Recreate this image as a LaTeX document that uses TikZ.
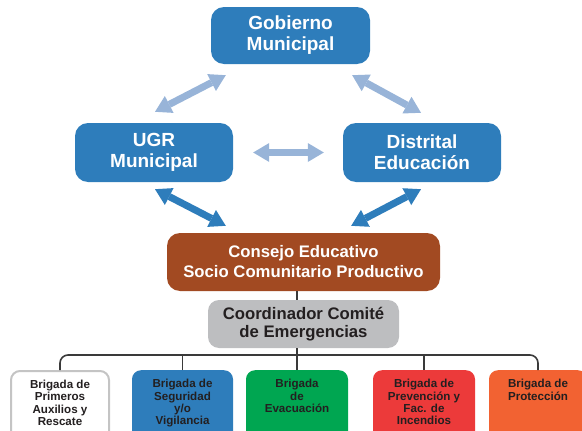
\documentclass[tikz,border=0pt]{standalone}
\usepackage{fontspec}
\setmainfont{Liberation Sans}
\usetikzlibrary{arrows.meta,calc}
\definecolor{boxblue}{HTML}{2E7DBB}
\definecolor{lightarr}{HTML}{98B4D8}
\definecolor{brownc}{HTML}{A24A22}
\definecolor{greyc}{HTML}{BDBEC0}
\definecolor{greyborder}{HTML}{C4C4C4}
\definecolor{greenc}{HTML}{00A651}
\definecolor{redc}{HTML}{EC3A3A}
\definecolor{orangec}{HTML}{F26232}
\definecolor{darktext}{HTML}{231F20}
\definecolor{connc}{HTML}{3A3A3A}
\begin{document}
\begin{tikzpicture}[x=1pt,y=-1pt,
  topbox/.style={rounded corners=13pt, fill=boxblue, text=white,
    font=\bfseries\fontsize{19}{21}\selectfont, align=center,
    minimum width=159pt, minimum height=57pt, inner sep=0pt},
  brig/.style={anchor=north, inner xsep=0pt, inner ysep=9pt, rounded corners=9pt,
    text=darktext, font=\bfseries\fontsize{11.6}{12.4}\selectfont},
  conn/.style={line width=1.6pt, draw=connc},
  fatarrow/.style={line width=7pt,
    {Triangle[width=19pt,length=16pt,line width=0pt]}-{Triangle[width=19pt,length=16pt,line width=0pt]}}
]
\path[use as bounding box, clip] (0,0) rectangle (582,431);

% main boxes
\node[topbox] (gob) at (290.5,35.5) {Gobierno\\Municipal};
\node[topbox, minimum width=158pt, minimum height=59pt] (ugr) at (154,152.5) {UGR\\Municipal};
\node[topbox, minimum width=158pt, minimum height=59pt] (dist) at (422,152.5) {Distrital\\Educación};
\node[topbox, fill=brownc, minimum width=273pt, minimum height=58pt,
  font=\bfseries\fontsize{16.7}{20}\selectfont] (con) at (303.5,262)
  {Consejo Educativo\\Socio Comunitario Productivo};
\node[topbox, fill=greyc, text=darktext, rounded corners=11pt, minimum width=191pt,
  minimum height=48pt, font=\bfseries\fontsize{16.7}{18.5}\selectfont] (coor) at (303.5,324)
  {Coordinador Comité\\de Emergencias};

% brigades
\node[brig, fill=white, draw=greyborder, line width=2pt] (b1) at (60,370)
  {\parbox[t][54pt][t]{98pt}{\centering Brigada de\\Primeros\\Auxilios y\\Rescate}};
\node[brig, fill=boxblue] (b2) at (182.5,370)
  {\parbox[t][54pt][t]{101pt}{\centering Brigada de\\Seguridad\\y/o\\Vigilancia}};
\node[brig, fill=greenc] (b3) at (297,370)
  {\parbox[t][54pt][t]{102pt}{\centering Brigada\\de\\Evacuación}};
\node[brig, fill=redc] (b4) at (424,370)
  {\parbox[t][54pt][t]{102pt}{\centering Brigada de\\Prevención y\\Fac. de\\Incendios}};
\node[brig, fill=orangec] (b5) at (538,370)
  {\parbox[t][54pt][t]{98pt}{\centering Brigada de\\Protección}};

% arrows
\draw[fatarrow, lightarr] ($(ugr.north)+(1,-11)$) -- ($(gob.south west)+(15,11)$);
\draw[fatarrow, lightarr] ($(gob.south east)+(-18,11)$) -- ($(dist.north)+(-1,-10)$);
\draw[fatarrow, lightarr] ($(ugr.east)+(20,0)$) -- ($(dist.west)+(-19,0)$);
\draw[fatarrow, boxblue] ($(ugr.south)+(1,7)$) -- ($(con.north west)+(59,-7)$);
\draw[fatarrow, boxblue] ($(dist.south)+(-1,7)$) -- ($(con.north east)+(-89,-7)$);

% tree connectors
\coordinate (bar) at (0,355);
\draw[conn] (con.south -| b3.north) -- (coor.north -| b3.north);
\draw[conn] (coor.south -| b3.north) -- (b3.north);
\draw[conn, rounded corners=8pt] (b1.north) -- (b1.north |- bar) -| (b5.north);
\draw[conn] (b2.north) -- (b2.north |- bar);
\draw[conn] (b4.north) -- (b4.north |- bar);
\end{tikzpicture}
\end{document}
